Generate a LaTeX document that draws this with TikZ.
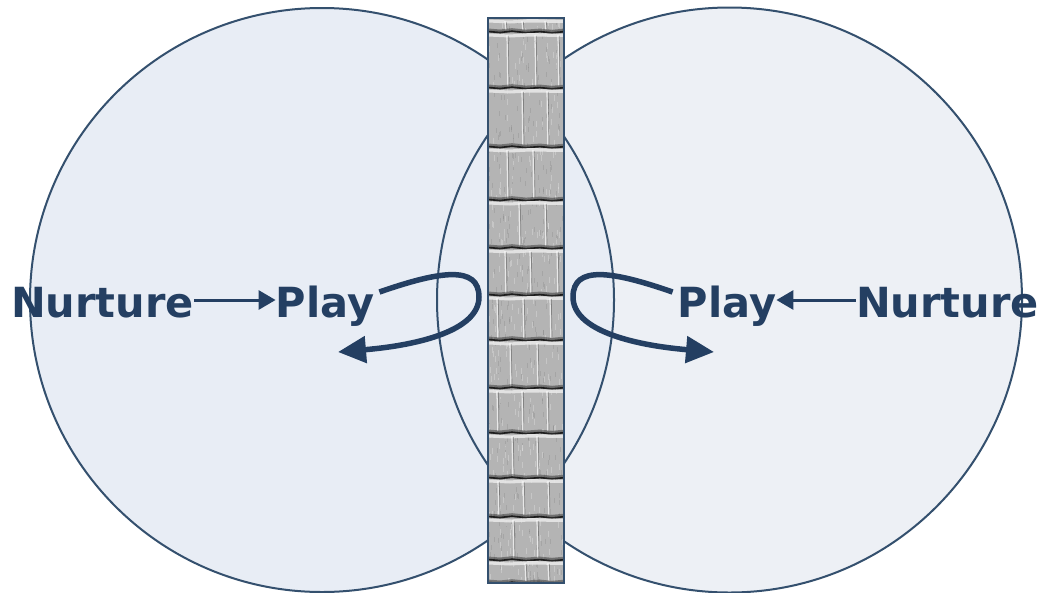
\documentclass[tikz,border=0pt]{standalone}
\usepackage{fontspec}
\setmainfont{DejaVu Sans}
\usetikzlibrary{arrows.meta}
\definecolor{txt}{HTML}{243F62}
\definecolor{edge}{HTML}{34506E}
\definecolor{lfill}{HTML}{E8EDF5}
\definecolor{rfill}{HTML}{EDF0F5}
\definecolor{brick}{HTML}{B4B4B4}
\definecolor{mortar}{HTML}{E8E8E8}
\definecolor{shade}{HTML}{2C2C2C}
\tikzset{
  lbl/.style={inner sep=0pt, anchor=base, text=txt, font=\fontsize{41.5}{41.5}\selectfont\bfseries},
  circ/.style={draw=edge, line width=2pt},
  straight/.style={draw=txt, line width=3pt, -{Triangle[length=17pt,width=19pt]}},
  loop/.style={draw=txt, line width=5.5pt, -{Triangle[length=28pt,width=26pt]}},
  wallbox/.style={draw=edge, line width=2.2pt},
}
\begin{document}
\begin{tikzpicture}[x=1pt,y=-1pt]
\useasboundingbox (0,0) rectangle (1043,592);
\fill[white] (0,0) rectangle (1043,592);
% circles
\coordinate (cl) at (322,300);
\coordinate (cr) at (729.5,300);
\fill[rfill] (cr) circle[radius=292.5pt];
\fill[lfill] (cl) circle[radius=292pt];
\draw[circ] (cl) circle[radius=292pt];
\draw[circ] (cr) circle[radius=292.5pt];
% labels
\node[lbl] (nl) at (102.5,317) {Nurture};
\node[lbl] (pl) at (325,317) {Play};
\node[lbl] (pr) at (727,317) {Play};
\node[lbl] (nr) at (947.5,317) {Nurture};
% straight arrows
\draw[straight] ([yshift=17pt]nl.base east) -- ([yshift=17pt]pl.base west);
\draw[straight] ([yshift=17pt]nr.base west) -- ([yshift=17pt]pr.base east);
% loop arrows
\coordinate (lend) at (338,352);
\coordinate (rend) at (714,352);
\draw[loop] ([xshift=5pt,yshift=25pt]pl.base east) .. controls (440,271) and (479,265) .. (479,297)
   .. controls (479,330) and (420,345) .. (lend);
\draw[loop] ([xshift=-5pt,yshift=25pt]pr.base west) .. controls (612,271) and (573,265) .. (573,297)
   .. controls (573,330) and (632,345) .. (rend);
% brick wall
\coordinate (w1) at (488,18);
\coordinate (w2) at (564,583);
\begin{scope}
\clip (w1) rectangle (w2);
\fill[brick] (w1) rectangle (w2);
\pgfmathsetseed{7}
\foreach \k in {1,...,700}{
  \pgfmathsetmacro{\rx}{488+76*rnd}
  \pgfmathsetmacro{\ry}{18+565*rnd}
  \pgfmathsetmacro{\rg}{rnd}
  \ifdim \rg pt<0.5pt
    \fill[white, opacity=0.25] (\rx,\ry) rectangle ++(1,6);
  \else
    \fill[black, opacity=0.08] (\rx,\ry) rectangle ++(1,5);
  \fi
}
\foreach \t/\b/\ja/\jb/\jc in {18/32/505/522/545, 32/88/507/535/558, 88/147/522/547/600, 147/200/507/533/600,
  200/248/519/545/600, 248/295/505/530/557, 295/340/497/523/550, 340/388/510/537/600,
  388/433/497/522/547, 433/478/512/537/600, 478/517/498/523/548, 517/560/513/537/600, 560/583/525/548/600}{
  \fill[mortar, opacity=0.9] (488,\t+1.5) -- (510,\t+2.5) -- (530,\t+1) -- (564,\t+2) -- (564,\t+5) -- (530,\t+4.5) -- (510,\t+5.5) -- (488,\t+4.5) -- cycle;
  \foreach \j in {\ja,\jb,\jc}{
    \draw[white, opacity=0.7, line width=1.2pt] (\j,\t+3) -- (\j+0.8,\b-2);
    \draw[shade, opacity=0.25, line width=0.7pt] (\j+1.3,\t+4) -- (\j+2,\b-3);
  }
  \draw[shade, opacity=0.35, line width=4pt] (488,\b-1.5) -- (500,\b-0.5) -- (512,\b-1.8) -- (526,\b-0.4) -- (540,\b-1.4) -- (552,\b-0.2) -- (564,\b-1.3);
  \draw[shade, opacity=0.75, line width=1.6pt] (488,\b-0.5) -- (500,\b+0.5) -- (512,\b-0.8) -- (526,\b+0.6) -- (540,\b-0.4) -- (552,\b+0.8) -- (564,\b-0.3);
}
\end{scope}
\draw[wallbox] (w1) rectangle (w2);
\end{tikzpicture}
\end{document}
